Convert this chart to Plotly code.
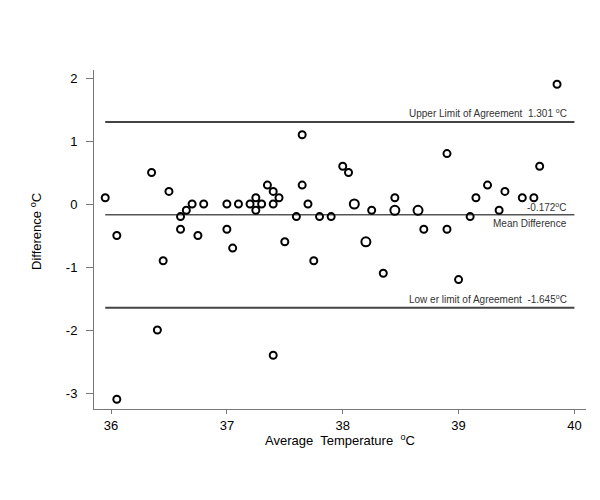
import plotly.graph_objects as go

# Bland-Altman: average vs difference of the two temperature readings
avg_temp = [35.95, 36.05, 36.05, 36.35, 36.4, 36.45, 36.5, 36.6, 36.6, 36.65,
            36.7, 36.75, 36.8, 37.0, 37.0, 37.05, 37.1, 37.2, 37.25, 37.25,
            37.3, 37.35, 37.4, 37.4, 37.4, 37.45, 37.5, 37.6, 37.65, 37.65,
            37.7, 37.75, 37.8, 37.9, 38.0, 38.05, 38.25, 38.35, 38.45, 38.7,
            38.9, 38.9, 39.0, 39.1, 39.15, 39.25, 39.35, 39.4, 39.55, 39.65,
            39.7, 39.85]
diff_temp = [0.1, -0.5, -3.1, 0.5, -2.0, -0.9, 0.2, -0.2, -0.4, -0.1,
             0.0, -0.5, 0.0, 0.0, -0.4, -0.7, 0.0, 0.0, 0.1, -0.1,
             0.0, 0.3, 0.2, 0.0, -2.4, 0.1, -0.6, -0.2, 1.1, 0.3,
             0.0, -0.9, -0.2, -0.2, 0.6, 0.5, -0.1, -1.1, 0.1, -0.4,
             0.8, -0.4, -1.2, -0.2, 0.1, 0.3, -0.1, 0.2, 0.1, 0.1,
             0.6, 1.9]

# repeated points (drawn with a bigger circle)
avg_dup = [38.1, 38.2, 38.45, 38.65]
diff_dup = [0.0, -0.6, -0.1, -0.1]

upper_loa = 1.301
mean_diff = -0.172
lower_loa = -1.645

x_ticks = [36, 37, 38, 39, 40]
y_ticks = [2, 1, 0, -1, -2, -3]
y_ticktext = ["2", "1", "0", "-1", "-2", "-3"]

font = "Liberation Sans, Arial, sans-serif"

fig = go.Figure()
fig.add_trace(go.Scatter(x=avg_temp, y=diff_temp, mode="markers",
    marker=dict(symbol="circle-open", size=7, color="black",
                line=dict(width=2, color="black"))))
fig.add_trace(go.Scatter(x=avg_dup, y=diff_dup, mode="markers",
    marker=dict(symbol="circle-open", size=9, color="black",
                line=dict(width=2, color="black"))))

x_start = min(avg_temp)
x_end = max(x_ticks)
for val, w, col in [(upper_loa, 2, "#444"), (mean_diff, 1, "black"), (lower_loa, 2, "#444")]:
    fig.add_shape(type="line", x0=x_start, x1=x_end, y0=val, y1=val,
                  xref="x", yref="y", line=dict(color=col, width=w))

lab = dict(family=font, size=10, color="#333")
x_lab = x_end - 0.05
fig.add_annotation(x=x_lab, y=upper_loa, xanchor="right", yanchor="bottom", yshift=1,
                   text="Upper Limit of Agreement  1.301 <sup>o</sup>C", showarrow=False, font=lab)
fig.add_annotation(x=x_lab, y=mean_diff, xanchor="right", yanchor="bottom", yshift=0,
                   text="-0.172<sup>o</sup>C", showarrow=False, font=lab)
fig.add_annotation(x=x_lab, y=mean_diff, xanchor="right", yanchor="top", yshift=-1,
                   text="Mean Difference", showarrow=False, font=lab)
fig.add_annotation(x=x_lab, y=lower_loa, xanchor="right", yanchor="bottom", yshift=1,
                   text="Low er limit of Agreement  -1.645<sup>o</sup>C", showarrow=False, font=lab)

# axis titles
fig.add_annotation(xref="paper", yref="paper", x=0.5, y=-0.09, xanchor="center", yanchor="middle",
                   text="Average  Temperature  <sup>o</sup>C", showarrow=False,
                   font=dict(family=font, size=13, color="black"))
fig.add_annotation(xref="paper", yref="paper", x=-0.118, y=0.525, xanchor="center", yanchor="middle",
                   text="Difference <sup>o</sup>C", textangle=-90, showarrow=False,
                   font=dict(family=font, size=13, color="black"))

fig.update_layout(
    width=600, height=500,
    margin=dict(l=86, r=22, t=62, b=99),
    paper_bgcolor="white", plot_bgcolor="white",
    showlegend=False,
    font=dict(family=font, size=12, color="black"),
    xaxis=dict(range=[35.853, 40.10], tickvals=x_ticks, showgrid=False, zeroline=False,
               showline=True, linecolor="#777", linewidth=1,
               ticks="outside", ticklen=4, tickcolor="#777",
               tickfont=dict(size=13)),
    yaxis=dict(range=[-3.254, 2.127], tickvals=y_ticks, ticktext=y_ticktext,
               showgrid=False, zeroline=False,
               showline=True, linecolor="#777", linewidth=1,
               ticks="outside", ticklen=7, tickcolor="#777",
               tickfont=dict(size=13), ticklabelstandoff=6),
)

fig.write_html("out.html")
